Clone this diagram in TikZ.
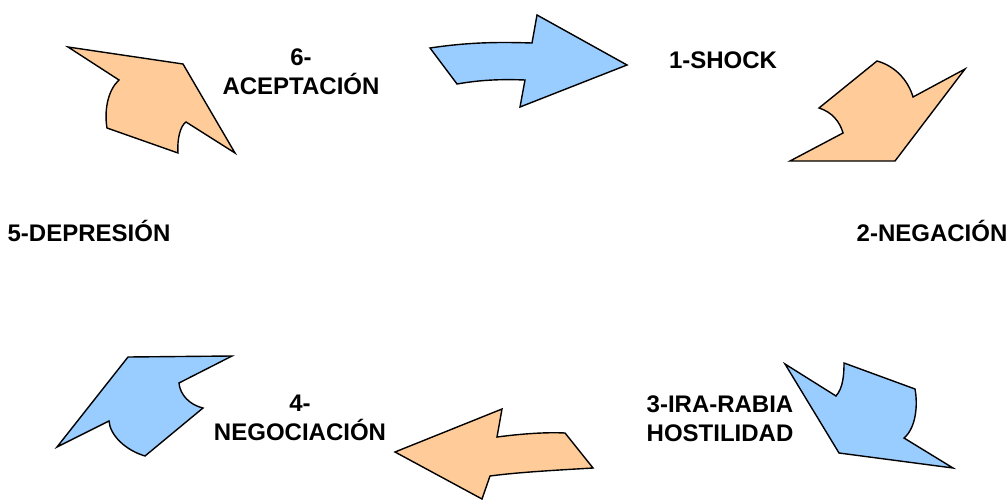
\documentclass[tikz,border=0pt]{standalone}
\usepackage{fontspec}
\setmainfont{Liberation Sans}
\usepackage{tikz}
\usetikzlibrary{positioning}
\definecolor{arrowblue}{RGB}{153,204,255}
\definecolor{arroworange}{RGB}{255,204,153}

\begin{document}
\begin{tikzpicture}[x=1pt, y=-1pt,
	bluearrow/.style={draw=black, line width=1.4pt, fill=arrowblue},
	orangearrow/.style={draw=black, line width=1.4pt, fill=arroworange},
	stage/.style={font=\fontsize{24}{29}\selectfont\bfseries, align=center, inner sep=0pt}]
	\useasboundingbox (0,0) rectangle (1008,500);
	% arrows
	\path[bluearrow] (430,48) .. controls (470,42) and (500,42) .. (532,43) -- (537,15) -- (627,65) -- (520,107) -- (525,80) .. controls (500,79) and (480,80) .. (457,84) -- cycle;
	\path[orangearrow] (877,61) .. controls (895,66) and (908,80) .. (913,97) -- (965,69) -- (895,161) -- (790,161) -- (843,133) .. controls (840,122) and (832,112) .. (819,108) -- cycle;
	\path[bluearrow] (785,364) -- (836,396) .. controls (843,388) and (844,375) .. (844,363) -- (915,389) .. controls (918,405) and (916,428) .. (904,438) -- (953,468) -- (839,453) -- cycle;
	\path[orangearrow] (395,452) -- (502,409) -- (497,437) .. controls (520,434) and (545,432) .. (565,433) -- (593,468) .. controls (560,470) and (520,472) .. (490,476) -- (482,499) -- cycle;
	\path[bluearrow] (128,357) -- (232,356) -- (179,383) .. controls (180,395) and (190,405) .. (203,408) -- (145,456) .. controls (125,450) and (110,435) .. (109,421) -- (57,447) -- cycle;
	\path[orangearrow] (68,47) -- (183,64) -- (235,153) -- (186,122) .. controls (180,126) and (177,140) .. (178,153) -- (107,128) .. controls (104,110) and (108,90) .. (119,80) -- cycle;
	% labels
	\node[stage] (shock) at (723,60) {1-SHOCK};
	\node[stage] (negacion) at (932,231) {2-NEGACIÓN};
	\node[stage] (ira) at (720,419) {3-IRA-RABIA\\HOSTILIDAD};
	\node[stage] (negociacion) at (300,418) {4-\\NEGOCIACIÓN};
	\node[stage] (depresion) at (89,231) {5-DEPRESIÓN};
	\node[stage] (aceptacion) at (301,72) {6-\\ACEPTACIÓN};
\end{tikzpicture}
\end{document}
